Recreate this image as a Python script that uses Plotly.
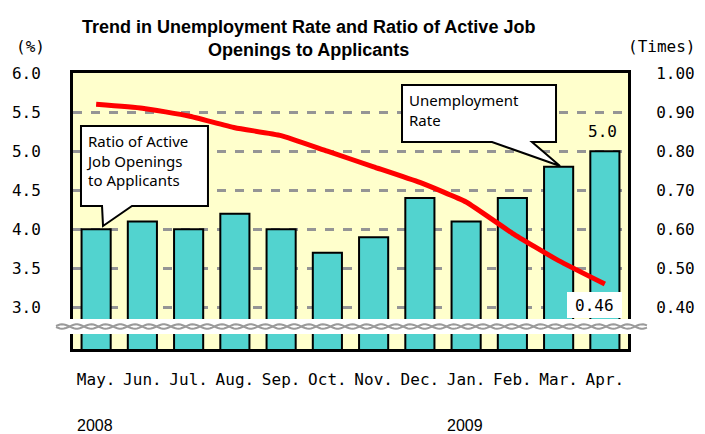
import numpy as np
import plotly.graph_objects as go

months = ["May.", "Jun.", "Jul.", "Aug.", "Sep.", "Oct.", "Nov.", "Dec.", "Jan.", "Feb.", "Mar.", "Apr."]
unemployment = [4.0, 4.1, 4.0, 4.2, 4.0, 3.7, 3.9, 4.4, 4.1, 4.4, 4.8, 5.0]
job_ratio = [0.92, 0.91, 0.89, 0.86, 0.84, 0.80, 0.76, 0.72, 0.67, 0.59, 0.52, 0.46]
left_ticks = [3.0, 3.5, 4.0, 4.5, 5.0, 5.5, 6.0]
right_ticks = [0.40, 0.50, 0.60, 0.70, 0.80, 0.90, 1.00]
years = ["2008", "2009"]
year_start_month = ["May.", "Jan."]

W, H = 705, 434
L, R, T, B = 73, 77, 73, 85
PW, PH = W - L - R, H - T - B


def px(x, y):
    return (x - L) / PW, (H - B - y) / PH


def path(points):
    s = ""
    for i, (x, y) in enumerate(points):
        u, v = px(x, y)
        s += ("M" if i == 0 else "L") + f"{u:.4f},{v:.4f} "
    return s + "Z"


mono = "DejaVu Sans Mono"
fig = go.Figure()
fig.add_trace(go.Bar(
    x=months, y=unemployment, yaxis="y", width=0.63,
    marker=dict(color="#52D3CF", line=dict(color="#000000", width=2)),
    showlegend=False, hoverinfo="skip"))
fig.add_trace(go.Scatter(
    x=months, y=job_ratio, yaxis="y2", mode="lines",
    line=dict(color="#FF0000", width=5, shape="spline", smoothing=0.4),
    showlegend=False, hoverinfo="skip"))

shapes = []
# break band
u0, v0 = px(55, 334)
u1, v1 = px(648, 319)
shapes.append(dict(type="rect", xref="paper", yref="paper", x0=u0, x1=u1, y0=v0, y1=v1,
                   fillcolor="white", line=dict(width=0), layer="above"))
xs = np.linspace(56, 647, 300)
for ph in (0, np.pi):
    pts = " ".join(("M" if i == 0 else "L") + "%.4f,%.4f" % px(x, 326.5 + 2.2 * np.sin(2 * np.pi * (x - 55) / 29 + ph))
                   for i, x in enumerate(xs))
    shapes.append(dict(type="path", xref="paper", yref="paper", path=pts,
                       line=dict(color="#9A9A9A", width=2), layer="above"))
# callouts
shapes.append(dict(type="path", xref="paper", yref="paper",
                   path=path([(402, 85), (556, 85), (556, 142), (532, 142), (560, 166), (492, 142), (402, 142)]),
                   fillcolor="white", line=dict(color="black", width=2), layer="above"))
shapes.append(dict(type="path", xref="paper", yref="paper",
                   path=path([(81, 126), (208, 126), (208, 206), (132, 206), (103, 226), (102, 206), (81, 206)]),
                   fillcolor="white", line=dict(color="black", width=2), layer="above"))
# 0.46 box
a0, b0 = px(567, 318)
a1, b1 = px(622, 292)
shapes.append(dict(type="rect", xref="paper", yref="paper", x0=a0, x1=a1, y0=b0, y1=b1,
                   fillcolor="white", line=dict(width=0), layer="above"))

ann = []
tx, ty = px(308, 38)
ann.append(dict(xref="paper", yref="paper", x=tx, y=ty, xanchor="center", yanchor="middle",
                text="<b>Trend in Unemployment Rate and Ratio of Active Job<br>Openings to Applicants</b>",
                showarrow=False, font=dict(family="Liberation Sans Narrow, Arial Narrow, sans-serif", size=18, color="black")))
x_, y_ = px(14, 46)
ann.append(dict(xref="paper", yref="paper", x=x_, y=y_, xanchor="left", yanchor="middle",
                text="(%)", showarrow=False, font=dict(family=mono, size=16, color="black")))
x_, y_ = px(697, 46)
ann.append(dict(xref="paper", yref="paper", x=x_, y=y_, xanchor="right", yanchor="middle",
                text="(Times)", showarrow=False, font=dict(family=mono, size=16, color="black")))
x_, y_ = px(407, 88)
ann.append(dict(xref="paper", yref="paper", x=x_, y=y_, xanchor="left", yanchor="top", align="left",
                text="Unemployment<br>Rate", showarrow=False, font=dict(family="Noto Sans", size=15, color="black")))
x_, y_ = px(84, 129)
ann.append(dict(xref="paper", yref="paper", x=x_, y=y_, xanchor="left", yanchor="top", align="left",
                text="Ratio of Active<br>Job Openings<br>to Applicants", showarrow=False,
                font=dict(family="Noto Sans", size=15, color="black")))
ann.append(dict(x=months[-1], y=unemployment[-1], xref="x", yref="y", yshift=20, xshift=-2,
                text=f"{unemployment[-1]:.1f}", showarrow=False, font=dict(family=mono, size=16, color="black")))
ann.append(dict(x=months[-1], y=job_ratio[-1], xref="x", yref="y2", yshift=-21, xshift=-10,
                text=f"{job_ratio[-1]:.2f}", showarrow=False, font=dict(family=mono, size=16, color="black")))
for yr, m in zip(years, year_start_month):
    ann.append(dict(x=m, y=0, xref="x", yref="paper", yanchor="middle", xanchor="left", xshift=-21,
                    yshift=-76, text=yr, showarrow=False,
                    font=dict(family="Liberation Sans, Arial, sans-serif", size=16, color="black")))

fig.update_layout(
    width=W, height=H, margin=dict(l=L, r=R, t=T, b=B, autoexpand=False),
    paper_bgcolor="white", plot_bgcolor="#FFFFCC",
    bargap=0.37,
    xaxis=dict(type="category", showgrid=False, showline=True, linecolor="black", linewidth=3, mirror=True,
               ticks="", tickfont=dict(family=mono, size=16, color="black"), ticklabelstandoff=14,
               automargin=False),
    yaxis=dict(range=[2.47, 6.0], tickvals=left_ticks, ticktext=[f"{v:.1f}" for v in left_ticks],
               showgrid=True, gridcolor="#959595", gridwidth=3, griddash="dash", zeroline=False,
               showline=True, linecolor="black", linewidth=3, ticks="", automargin=False,
               tickfont=dict(family=mono, size=16, color="black"), ticklabelstandoff=26),
    yaxis2=dict(range=[0.294, 1.0], overlaying="y", side="right", tickvals=right_ticks,
                ticktext=[f"{v:.2f}" for v in right_ticks], showgrid=False, zeroline=False,
                showline=True, linecolor="black", linewidth=3, ticks="", automargin=False,
                tickfont=dict(family=mono, size=16, color="black"), ticklabelstandoff=22),
    shapes=shapes, annotations=ann,
)
fig.write_html("out.html", config={"displayModeBar": False},
               post_script="document.body.style.margin='0';")
